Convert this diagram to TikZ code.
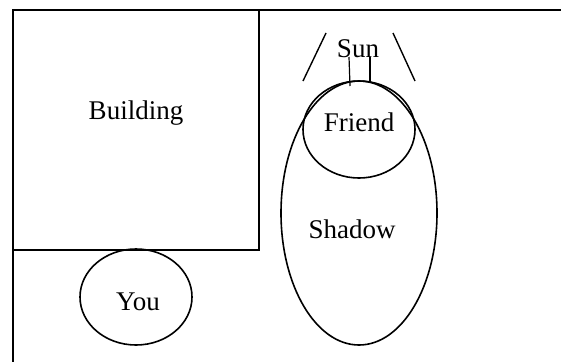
\documentclass[tikz,border=0pt]{standalone}
\usepackage{fontspec}
\setmainfont{Liberation Serif}
\usetikzlibrary{shapes.geometric}
\begin{document}
\begin{tikzpicture}[x=1pt,y=-1pt,
  ln/.style={line width=1.6pt},
  oval/.style={draw,ln,ellipse,inner sep=0pt},
  lbl/.style={font=\fontsize{27}{30}\selectfont,inner sep=0pt}]
\useasboundingbox (0,0) rectangle (561,362);
% frame
\coordinate (tl) at (13,10);
\coordinate (tr) at (561,10);
\coordinate (bl) at (13,362);
\draw[ln] (tr) -- (tl) -- (bl);
% building
\node[draw,ln,minimum width=246pt,minimum height=240pt,inner sep=0pt] (building) at (136,130) {};
\node[lbl] (buildingt) at (136,113) {Building};
% you
\node[oval,minimum width=112pt,minimum height=96pt] (you) at (136,297) {};
\node[lbl] (yout) at (138,302) {You};
% shadow
\node[oval,minimum width=156pt,minimum height=264pt] (shadow) at (359,213) {};
\node[lbl] (shadowt) at (352,229) {Shadow};
% friend
\node[oval,minimum width=112pt,minimum height=97pt] (friend) at (359,129.5) {};
\node[lbl] (friendt) at (359,122) {Friend};
% sun
\node[lbl] (sun) at (358,49) {Sun};
\coordinate (l1) at (326,33); \coordinate (l2) at (303,81);
\coordinate (r1) at (393,33); \coordinate (r2) at (415,81);
\draw[line width=1.4pt] (l1) -- (l2);
\draw[line width=1.4pt] (r1) -- (r2);
\coordinate (a1) at (349,57); \coordinate (a2) at (350,86);
\coordinate (b1) at (370,57); \coordinate (b2) at (370,82);
\draw[line width=1.2pt] (a1) -- (a2);
\draw[line width=1.2pt] (b1) -- (b2);
\end{tikzpicture}
\end{document}
